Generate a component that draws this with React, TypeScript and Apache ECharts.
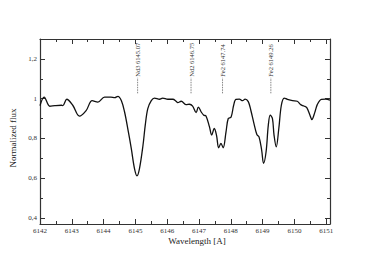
import React, { useEffect, useRef } from 'react';
import * as echarts from 'echarts';

const wavelength = [
  6142.0, 6142.13, 6142.31, 6142.47, 6142.68, 6142.72, 6142.84, 6143.03, 6143.24, 6143.45,
  6143.64, 6143.82, 6144.03, 6144.23, 6144.35, 6144.45, 6144.56, 6144.66, 6144.76, 6144.87,
  6144.97, 6145.05, 6145.13, 6145.24, 6145.31, 6145.39, 6145.5, 6145.6, 6145.76, 6145.86,
  6146.02, 6146.18, 6146.28, 6146.33, 6146.44, 6146.6, 6146.7, 6146.8, 6146.91, 6146.98,
  6147.07, 6147.15, 6147.22, 6147.33, 6147.4, 6147.48, 6147.55, 6147.62, 6147.69, 6147.76,
  6147.85, 6147.92, 6148.01, 6148.09, 6148.16, 6148.27, 6148.37, 6148.45, 6148.55, 6148.63,
  6148.74, 6148.82, 6148.89, 6148.97, 6149.03, 6149.11, 6149.18, 6149.24, 6149.31, 6149.36,
  6149.43, 6149.51, 6149.59, 6149.68, 6149.78, 6149.94, 6150.09, 6150.2, 6150.3, 6150.39,
  6150.49, 6150.55, 6150.64, 6150.72, 6150.85, 6150.98, 6151.12,
];
const flux = [
  0.965, 1.008, 0.962, 0.965, 0.967, 0.965, 0.997, 0.967, 0.912, 0.94,
  0.99, 0.983, 1.008, 1.008, 1.005, 1.012, 0.99, 0.933, 0.85, 0.75,
  0.65, 0.612, 0.65, 0.767, 0.867, 0.95, 0.99, 1.003, 0.997, 1.003,
  0.997, 0.997, 0.987, 0.98, 0.987, 0.97, 0.972, 0.963, 0.93, 0.958,
  0.933, 0.917, 0.913, 0.858, 0.817, 0.85, 0.817, 0.753, 0.775, 0.753,
  0.833, 0.9, 0.908, 0.967, 0.997, 0.998, 0.99, 0.998, 0.985, 0.942,
  0.867, 0.82, 0.807, 0.742, 0.675, 0.733, 0.867, 0.917, 0.9, 0.817,
  0.758, 0.85, 0.967, 1.003, 0.997, 0.99, 0.987, 0.97, 0.963, 0.955,
  0.917, 0.895, 0.93, 0.97, 0.997, 0.998, 0.993,
];
const lineLabels = ['Nd3 6145.07', 'Nd2 6146.75', 'Fe2 6147.74', 'Fe2 6149.26'];
const lineWavelengths = [6145.07, 6146.75, 6147.74, 6149.26];
const yMajorTicks = [0.4, 0.6, 0.8, 1.0, 1.2];
const yMinorTicks = [0.5, 0.7, 0.9, 1.1];
const xTitle = 'Wavelength [A]';
const yTitle = 'Normalized flux';

const X_MIN = 6142, X_MAX = 6151.12, Y_MIN = 0.37, Y_MAX = 1.3;
const FONT = 'Liberation Serif';
const AX = '#333';

function xAxis(interval: number, len: number, pos: 'top' | 'bottom', labels: boolean, line: boolean) {
  return {
    type: 'value', position: pos, min: X_MIN, max: X_MAX, interval,
    splitLine: { show: false },
    axisLine: { show: line, onZero: false, lineStyle: { color: AX, width: 1.2 } },
    axisTick: { show: true, inside: true, length: len, lineStyle: { color: AX, width: 1 } },
    axisLabel: {
      show: labels, fontFamily: FONT, fontSize: 7, color: '#333', margin: 3,
      formatter: (v: number) => (Math.abs(v - Math.round(v)) < 1e-6 && v <= 6151 ? String(Math.round(v)) : ''),
    },
  };
}
function yAxis(ticks: number[], len: number, pos: 'left' | 'right', labels: boolean, line: boolean) {
  return {
    type: 'value', position: pos, min: Y_MIN, max: Y_MAX,
    splitLine: { show: false },
    axisLine: { show: line, onZero: false, lineStyle: { color: AX, width: 1.2 } },
    axisTick: { show: true, inside: true, length: len, customValues: ticks, lineStyle: { color: AX, width: 1 } },
    axisLabel: {
      show: labels, fontFamily: FONT, fontSize: 7, color: '#333', margin: 3,
      customValues: ticks,
      formatter: (v: number) => String(Math.round(v * 10) / 10).replace('.', ','),
    },
  };
}

export default function App() {
  const ref = useRef<HTMLDivElement>(null);
  useEffect(() => {
    if (!ref.current) return;
    const chart = echarts.init(ref.current, undefined, { renderer: 'svg' });
    chart.setOption({
      animation: false,
      grid: { left: 40, right: 44, top: 39, bottom: 40, containLabel: false },
      xAxis: [
        xAxis(1, 5, 'bottom', true, true),
        xAxis(1, 5, 'top', false, true),
        xAxis(0.5, 3, 'bottom', false, false),
        xAxis(0.5, 3, 'top', false, false),
      ],
      yAxis: [
        yAxis(yMajorTicks, 5, 'left', true, true),
        yAxis(yMajorTicks, 5, 'right', false, true),
        yAxis(yMinorTicks, 3, 'left', false, false),
        yAxis(yMinorTicks, 3, 'right', false, false),
      ],
      series: [
        {
          type: 'line', xAxisIndex: 0, yAxisIndex: 0,
          data: wavelength.map((w, i) => [w, flux[i]]),
          showSymbol: false, smooth: 0.35,
          lineStyle: { color: '#111', width: 1.3 },
        },
      ],
    });
    const graphics: any[] = [];
    lineWavelengths.forEach((w, i) => {
      const top = chart.convertToPixel({ xAxisIndex: 0, yAxisIndex: 0 }, [w, 1.105]) as number[];
      const bot = chart.convertToPixel({ xAxisIndex: 0, yAxisIndex: 0 }, [w, 1.027]) as number[];
      graphics.push({
        type: 'line', shape: { x1: bot[0], y1: bot[1], x2: top[0], y2: top[1] },
        style: { stroke: '#666', lineWidth: 0.8, lineDash: [1.5, 1] },
      });
      graphics.push({
        type: 'text', x: top[0], y: top[1] - 1, rotation: Math.PI / 2,
        style: { text: lineLabels[i], fontFamily: FONT, fontSize: 6.5, fill: '#333', align: 'left', verticalAlign: 'middle' },
      });
    });
    graphics.push({
      type: 'text', x: 197, y: 241,
      style: { text: xTitle, fontFamily: FONT, fontSize: 9, fill: '#222', align: 'center', verticalAlign: 'middle' },
    });
    graphics.push({
      type: 'text', x: 13, y: 138, rotation: Math.PI / 2,
      style: { text: yTitle, fontFamily: FONT, fontSize: 9, fill: '#222', align: 'center', verticalAlign: 'middle' },
    });
    chart.setOption({ graphic: graphics });
    return () => chart.dispose();
  }, []);
  return <div ref={ref} style={{ width: 374, height: 264, margin: -8 }} />;
}
